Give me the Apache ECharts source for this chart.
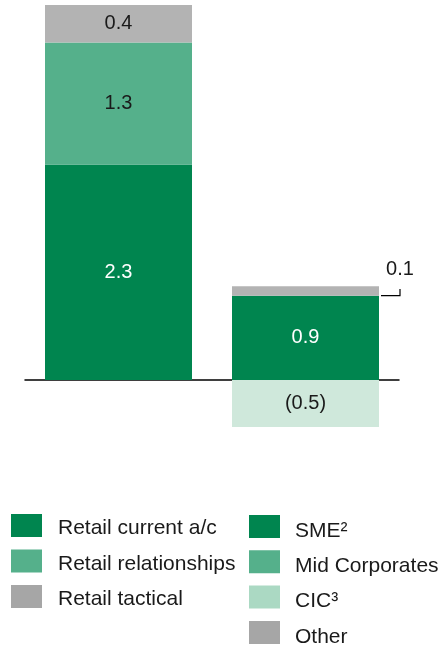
<!DOCTYPE html>
<html>
<head>
<meta charset="utf-8">
<script src="https://cdn.jsdelivr.net/npm/echarts@6/dist/echarts.min.js"></script>
<style>
html,body{margin:0;padding:0;background:#fff;}
#main{width:440px;height:646px;}
</style>
</head>
<body>
<div id="main"></div>
<script>
// Data
var categories = ['Retail', 'Commercial'];
var retailCurrent = [2.3, '-'];
var retailRelationships = [1.3, '-'];
var retailTactical = [0.4, '-'];
var sme = ['-', 0.9];
var midCorporates = ['-', '-'];
var cic = ['-', -0.5];
var other = ['-', 0.1];

var DARK = '#00854F', MID = '#55B08B', LIGHT = '#CFE8DB', GRAY = '#B3B3B3';
var FONT = '"Liberation Sans", Arial, sans-serif';
var BARW = 147;

var chart = echarts.init(document.getElementById('main'));

function lbl(color, fmt) {
  return {
    show: true, position: 'inside', color: color, fontSize: 20, fontFamily: FONT,
    formatter: fmt || function (p) { return p.value.toFixed(1); }
  };
}

var option = {
  animation: false,
  backgroundColor: '#fff',
  grid: { left: 25, right: 41, top: 5, bottom: 219, containLabel: false },
  xAxis: {
    type: 'category', data: categories,
    axisLine: { show: true, onZero: true, lineStyle: { color: '#000', width: 1.5 } },
    axisTick: { show: false }, axisLabel: { show: false }
  },
  yAxis: {
    type: 'value', min: -0.5, max: 4,
    show: false, splitLine: { show: false }
  },
  legend: [
    {
      orient: 'vertical', left: 11, top: 514, height: 160, padding: 0, itemWidth: 31, itemHeight: 29, itemGap: 6.5,
      icon: 'path://M0,0L31,0L31,23L0,23Z M0,29L31,29',
      textStyle: { fontSize: 21, fontFamily: FONT, color: '#1a1a1a', padding: [0, 0, 0, 11] },
      data: ['Retail current a/c', 'Retail relationships',
        { name: 'Retail tactical', itemStyle: { color: '#A6A6A6' } }]
    },
    {
      orient: 'vertical', left: 249, top: 515, height: 160, padding: 0, itemWidth: 31, itemHeight: 32, itemGap: 3.3,
      icon: 'path://M0,0L31,0L31,23L0,23Z M0,32L31,32',
      textStyle: { fontSize: 21, fontFamily: FONT, color: '#1a1a1a', padding: [0, 0, 0, 10] },
      data: ['SME²', 'Mid Corporates',
        { name: 'CIC³', itemStyle: { color: '#ABD9C3' } },
        { name: 'Other', itemStyle: { color: '#A6A6A6' } }]
    }
  ],
  series: [
    { name: 'Retail current a/c', type: 'bar', stack: 's', barWidth: BARW, data: retailCurrent,
      itemStyle: { color: DARK }, label: lbl('#fff') },
    { name: 'Retail relationships', type: 'bar', stack: 's', barWidth: BARW, data: retailRelationships,
      itemStyle: { color: MID }, label: lbl('#1a1a1a') },
    { name: 'Retail tactical', type: 'bar', stack: 's', barWidth: BARW, data: retailTactical,
      itemStyle: { color: GRAY }, label: lbl('#1a1a1a') },
    { name: 'SME²', type: 'bar', stack: 's', barWidth: BARW, data: sme,
      itemStyle: { color: DARK }, label: lbl('#fff') },
    { name: 'Mid Corporates', type: 'bar', stack: 's', barWidth: BARW, data: midCorporates,
      itemStyle: { color: MID } },
    { name: 'CIC³', type: 'bar', stack: 's', barWidth: BARW, data: cic,
      itemStyle: { color: LIGHT },
      label: lbl('#1a1a1a', function (p) { return '(' + Math.abs(p.value).toFixed(1) + ')'; }) },
    { name: 'Other', type: 'bar', stack: 's', barWidth: BARW, data: other,
      itemStyle: { color: GRAY },
      label: { show: true, position: [168, -17], align: 'center', verticalAlign: 'middle',
        color: '#1a1a1a', fontSize: 20, fontFamily: FONT,
        formatter: function (p) { return p.value.toFixed(1); } } }
  ]
};
chart.setOption(option);

// bracket connecting "Other" label to its thin segment
var p = chart.convertToPixel({ gridIndex: 0 }, [1, sme[1]]);
var pTop = chart.convertToPixel({ gridIndex: 0 }, [1, sme[1] + other[1] * 0.3]);
var rx = p[0] + BARW / 2;
chart.setOption({
  graphic: [{
    type: 'polyline',
    shape: { points: [[rx + 2, p[1]], [rx + 21, p[1]], [rx + 21, pTop[1] - 4]] },
    style: { stroke: '#000', lineWidth: 1.2, fill: null }
  }]
});
</script>
</body>
</html>
